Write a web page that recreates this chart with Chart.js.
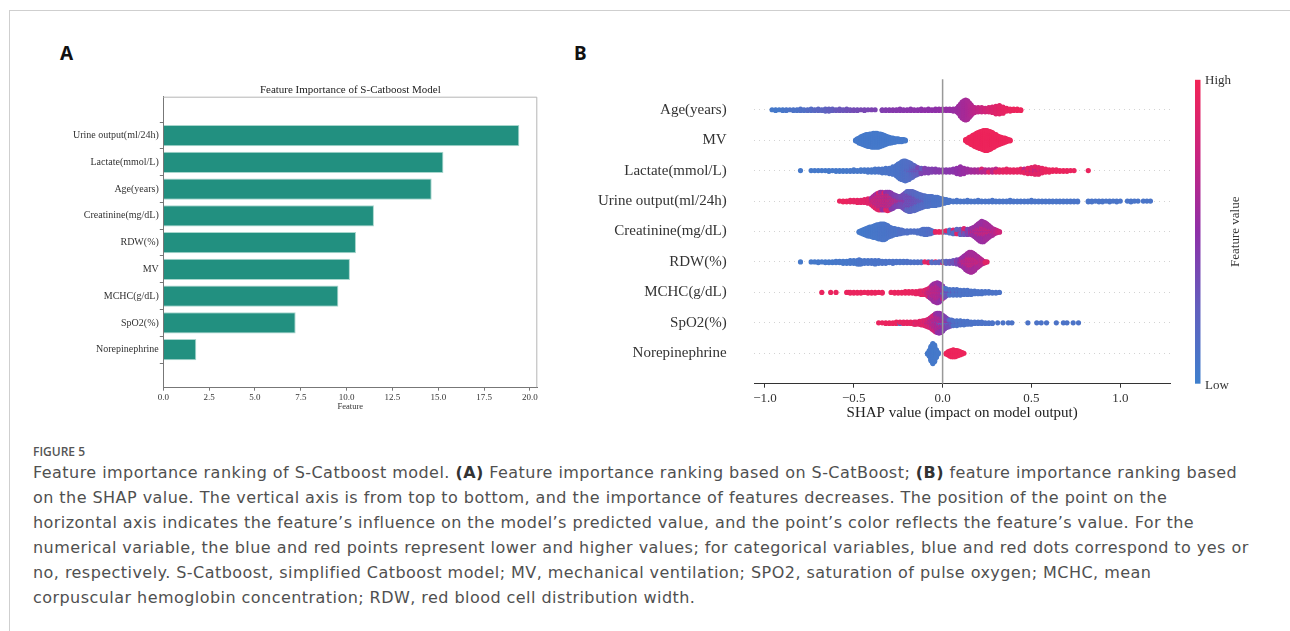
<!DOCTYPE html>
<html>
<head>
<meta charset="utf-8">
<script src="https://cdn.jsdelivr.net/npm/chart.js@4.4.1/dist/chart.umd.min.js"></script>
<style>
  body { margin: 0; background: #fff; width: 1290px; height: 631px; overflow: hidden; position: relative; }
  #frame { position: absolute; left: 9px; top: 10px; width: 1400px; height: 700px; border: 1px solid #cfcfcf; }
  .panel { position: absolute; font: bold 19px "Noto Sans", sans-serif; line-height: 19px; color: #111; }
  #chartA { position: absolute; left: 0; top: 0; }
  #chartB { position: absolute; left: 560px; top: 0; }
  #figlabel { position: absolute; left: 33px; top: 444px; font: 600 12px "Open Sans", sans-serif; line-height: 16px; color: #555; }
  #caption { position: absolute; left: 33px; top: 460px; font: 16px "DejaVu Sans", sans-serif; letter-spacing: 0.45px; line-height: 25px; color: #505050; white-space: nowrap; }
  #caption b { font-weight: 700; color: #333; }
</style>
</head>
<body>
<div id="frame"></div>
<div class="panel" style="left:60px;top:44px">A</div>
<div class="panel" style="left:574px;top:44px">B</div>
<canvas id="chartA" width="570" height="412"></canvas>
<canvas id="chartB" width="730" height="422"></canvas>
<div id="figlabel">FIGURE 5</div>
<div id="caption">
<span>Feature importance ranking of S-Catboost model. <b>(A)</b> Feature importance ranking based on S-CatBoost; <b>(B)</b> feature importance ranking based</span><br>
<span>on the SHAP value. The vertical axis is from top to bottom, and the importance of features decreases. The position of the point on the</span><br>
<span>horizontal axis indicates the feature’s influence on the model’s predicted value, and the point’s color reflects the feature’s value. For the</span><br>
<span>numerical variable, the blue and red points represent lower and higher values; for categorical variables, blue and red dots correspond to yes or</span><br>
<span>no, respectively. S-Catboost, simplified Catboost model; MV, mechanical ventilation; SPO2, saturation of pulse oxygen; MCHC, mean</span><br>
<span>corpuscular hemoglobin concentration; RDW, red blood cell distribution width.</span>
</div>
<script>
// ---- panel A: feature importance ----
const categoriesA = ["Urine output(ml/24h)", "Lactate(mmol/L)", "Age(years)", "Creatinine(mg/dL)", "RDW(%)", "MV", "MCHC(g/dL)", "SpO2(%)", "Norepinephrine"];
const importanceA = [19.42, 15.28, 14.64, 11.49, 10.51, 10.18, 9.55, 7.22, 1.8];
const xTicksA = [0, 2.5, 5, 7.5, 10, 12.5, 15, 17.5, 20];

// ---- panel B: SHAP beeswarm, bins of [shap value, dot count, feature value 0..1] ----
const featuresB = ["Age(years)", "MV", "Lactate(mmol/L)", "Urine output(ml/24h)", "Creatinine(mg/dL)", "RDW(%)", "MCHC(g/dL)", "SpO2(%)", "Norepinephrine"];
const xTicksB = [-1, -0.5, 0, 0.5, 1];

const ageBins = [
  [-0.96,1,.05],[-0.94,2,.05],[-0.92,1,.05],[-0.90,2,.07],[-0.88,2,.08],[-0.86,1,.1],[-0.84,2,.1],[-0.82,2,.1],
  [-0.80,3,.12],[-0.78,2,.12],[-0.76,2,.15],[-0.74,3,.15],[-0.72,2,.18],[-0.70,3,.2],[-0.68,2,.2],[-0.66,4,.22],
  [-0.64,4,.25],[-0.62,3,.25],[-0.60,2,.28],[-0.58,3,.3],[-0.56,2,.3],[-0.54,3,.32],[-0.52,2,.33],[-0.50,2,.35],
  [-0.48,2,.35],[-0.46,1,.37],[-0.44,2,.38],[-0.42,1,.38],[-0.40,1,.4],[-0.38,1,.4],
  [-0.34,2,.42],[-0.32,2,.43],[-0.30,2,.44],[-0.28,2,.45],[-0.26,2,.45],[-0.24,3,.46],[-0.22,2,.46],[-0.20,2,.47],
  [-0.18,3,.47],[-0.16,2,.48],[-0.14,2,.48],[-0.12,3,.49],[-0.10,2,.5],[-0.08,3,.5],[-0.06,2,.5],[-0.04,3,.5],
  [-0.02,3,.51],[0.00,3,.52],[0.02,3,.52],[0.04,3,.53],[0.06,4,.54],[0.08,6,.55],[0.09,11,.56],[0.10,18,.57],
  [0.11,24,.58],[0.12,28,.6],[0.13,30,.6],[0.14,28,.62],[0.15,22,.63],[0.16,16,.65],[0.17,10,.68],[0.18,8,.7],
  [0.20,7,.73],[0.22,7,.76],[0.24,6,.8],[0.26,7,.83],[0.28,9,.86],[0.30,12,.88],[0.32,13,.9],[0.34,10,.92],
  [0.36,5,.94],[0.38,4,.95],[0.40,3,.96],[0.42,3,.97],[0.44,2,.97]
];
const mvBins = [
  [-0.49,2,.05],[-0.48,5,.05],[-0.47,8,.05],[-0.46,11,.05],[-0.45,13,.05],[-0.44,15,.05],[-0.43,17,.05],[-0.42,18,.05],
  [-0.41,19,.05],[-0.40,20,.05],[-0.39,21,.05],[-0.38,21,.05],[-0.37,21,.05],[-0.36,20,.05],[-0.35,19,.05],[-0.34,17,.05],
  [-0.33,15,.05],[-0.32,13,.05],[-0.31,11,.05],[-0.30,9,.05],[-0.29,8,.05],[-0.28,7,.05],[-0.27,6,.05],[-0.26,5,.05],
  [-0.25,5,.05],[-0.24,4,.05],[-0.23,4,.05],[-0.22,3,.05],[-0.21,2,.05],
  [0.13,3,.97],[0.14,6,.97],[0.15,9,.97],[0.16,12,.97],[0.17,15,.97],[0.18,18,.97],[0.19,21,.97],[0.20,23,.97],
  [0.21,25,.97],[0.22,27,.97],[0.23,29,.97],[0.24,30,.97],[0.25,30,.97],[0.26,28,.97],[0.27,26,.97],[0.28,23,.97],
  [0.29,20,.97],[0.30,17,.97],[0.31,14,.97],[0.32,12,.97],[0.33,10,.97],[0.34,8,.97],[0.35,7,.97],[0.36,5,.97],
  [0.37,3,.97],[0.38,2,.97]
];
const lactateBins = [
  [-0.80,1,.05],[-0.74,1,.05],[-0.72,1,.05],[-0.70,1,.05],[-0.68,1,.05],[-0.66,1,.05],[-0.64,2,.05],[-0.62,1,.05],
  [-0.60,2,.05],[-0.58,2,.05],[-0.56,2,.05],[-0.54,2,.05],[-0.52,2,.06],[-0.50,3,.06],[-0.48,2,.06],[-0.46,3,.06],
  [-0.44,3,.06],[-0.42,4,.07],[-0.40,4,.07],[-0.38,5,.07],[-0.36,5,.08],[-0.34,6,.08],[-0.32,7,.08],[-0.30,8,.09],
  [-0.28,11,.09],[-0.26,15,.1],[-0.25,19,.1],[-0.24,22,.1],[-0.23,25,.11],[-0.22,27,.12],[-0.21,28,.12],
  [-0.20,24,.13],[-0.20,2,.3],[-0.19,21,.14],[-0.19,3,.3],[-0.18,18,.15],[-0.18,3,.32],[-0.17,14,.17],[-0.17,4,.35],
  [-0.16,11,.2],[-0.16,4,.35],[-0.15,8,.22],[-0.15,4,.38],[-0.14,6,.25],[-0.14,4,.38],[-0.12,4,.28],[-0.12,4,.4],
  [-0.10,3,.3],[-0.10,4,.42],[-0.08,2,.3],[-0.08,4,.42],[-0.06,5,.42],[-0.04,5,.44],[-0.02,4,.45],[0.00,4,.45],
  [0.02,4,.46],[0.04,4,.47],[0.06,5,.48],[0.08,8,.5],[0.10,11,.52],[0.12,8,.54],[0.14,5,.56],[0.16,4,.58],
  [0.18,4,.6],[0.20,4,.62],[0.22,3,.65],[0.22,2,.85],[0.24,4,.68],[0.26,2,.65],[0.26,2,.9],[0.28,3,.7],[0.28,1,.9],
  [0.30,3,.9],[0.30,2,.7],[0.32,4,.9],[0.34,3,.92],[0.34,1,.7],[0.36,4,.92],[0.36,1,.75],[0.38,4,.92],[0.40,3,.93],
  [0.40,1,.75],[0.42,4,.93],[0.44,4,.93],[0.44,1,.7],[0.46,4,.93],[0.46,2,.7],[0.48,5,.92],[0.48,3,.7],[0.50,6,.9],
  [0.50,3,.65],[0.52,7,.9],[0.52,4,.65],[0.54,7,.9],[0.54,3,.7],[0.56,5,.93],[0.56,2,.7],[0.58,5,.95],[0.60,4,.95],
  [0.62,3,.95],[0.64,3,.95],[0.66,2,.95],[0.68,2,.95],[0.70,2,.95],[0.72,1,.95],[0.74,1,.95],[0.82,1,.95]
];
const urineBins = [
  [-0.58,1,.95],[-0.56,2,.95],[-0.54,2,.95],[-0.52,3,.93],[-0.50,3,.92],[-0.48,4,.92],[-0.46,4,.9],[-0.44,5,.9],
  [-0.42,7,.88],[-0.40,6,.9],[-0.40,4,.6],[-0.39,8,.9],[-0.39,6,.6],[-0.38,10,.9],[-0.38,8,.58],[-0.37,12,.9],
  [-0.37,10,.58],[-0.36,13,.9],[-0.36,11,.55],[-0.35,13,.92],[-0.35,12,.55],[-0.34,12,.9],[-0.34,13,.55],
  [-0.33,12,.9],[-0.33,12,.52],[-0.32,13,.92],[-0.32,12,.5],[-0.31,14,.92],[-0.31,12,.5],[-0.30,13,.9],
  [-0.30,12,.48],[-0.29,11,.88],[-0.29,12,.45],[-0.28,9,.85],[-0.28,11,.45],[-0.27,7,.85],[-0.27,10,.42],
  [-0.26,6,.8],[-0.26,9,.4],[-0.25,5,.75],[-0.25,9,.4],[-0.24,4,.7],[-0.24,10,.38],[-0.23,4,.65],[-0.23,12,.35],
  [-0.22,4,.6],[-0.22,16,.35],[-0.21,5,.55],[-0.21,19,.32],[-0.20,12,.45],[-0.20,15,.2],[-0.19,12,.45],[-0.19,16,.2],
  [-0.18,11,.45],[-0.18,17,.2],[-0.17,10,.42],[-0.17,17,.2],[-0.16,9,.4],[-0.16,17,.18],[-0.15,8,.4],[-0.15,16,.18],
  [-0.14,7,.38],[-0.14,15,.16],[-0.13,6,.35],[-0.13,14,.15],[-0.12,5,.35],[-0.12,13,.15],[-0.11,4,.32],[-0.11,12,.15],
  [-0.10,3,.3],[-0.10,12,.15],[-0.09,14,.12],[-0.08,14,.12],[-0.07,13,.12],[-0.06,13,.12],[-0.05,12,.1],
  [-0.04,12,.1],[-0.03,11,.1],[-0.02,10,.1],[-0.01,8,.1],[0.00,7,.1],[0.01,6,.08],[0.02,5,.08],[0.03,4,.08],
  [0.04,3,.08],[0.06,2,.08],[0.08,3,.08],[0.10,2,.08],[0.12,2,.08],[0.14,3,.08],[0.16,2,.08],[0.18,2,.08],
  [0.20,3,.08],[0.22,2,.08],[0.24,2,.08],[0.26,2,.08],[0.28,3,.08],[0.30,2,.08],[0.32,2,.08],[0.34,2,.08],
  [0.36,2,.08],[0.38,3,.08],[0.40,2,.08],[0.42,2,.08],[0.44,2,.08],[0.46,2,.08],[0.48,2,.08],[0.50,3,.08],
  [0.52,2,.08],[0.54,2,.08],[0.56,2,.08],[0.58,2,.08],[0.60,2,.08],[0.62,2,.08],[0.64,2,.08],[0.66,2,.08],
  [0.68,2,.08],[0.70,2,.08],[0.72,2,.08],[0.74,2,.08],[0.76,2,.08],[0.82,2,.08],[0.84,2,.08],[0.86,1,.08],
  [0.88,2,.08],[0.90,2,.08],[0.92,1,.08],[0.94,2,.08],[0.96,1,.08],[0.98,2,.08],[1.00,1,.08],[1.04,1,.08],
  [1.06,2,.08],[1.08,1,.08],[1.10,1,.08],[1.13,1,.08],[1.15,1,.08],[1.17,1,.08]
];
const creatinineBins = [
  [-0.47,2,.05],[-0.46,4,.05],[-0.45,6,.05],[-0.44,8,.05],[-0.43,10,.05],[-0.42,12,.06],[-0.41,13,.06],[-0.40,14,.06],
  [-0.39,16,.06],[-0.38,17,.07],[-0.37,19,.07],[-0.36,20,.07],[-0.35,21,.08],[-0.34,22,.08],[-0.33,22,.08],
  [-0.32,20,.08],[-0.31,17,.09],[-0.30,14,.09],[-0.29,12,.1],[-0.28,10,.1],[-0.27,9,.1],[-0.26,8,.1],[-0.25,7,.1],
  [-0.24,6,.12],[-0.23,5,.12],[-0.22,4,.12],[-0.20,4,.12],[-0.18,3,.12],[-0.16,3,.12],[-0.14,4,.12],[-0.12,6,.12],
  [-0.11,7,.12],[-0.10,8,.12],[-0.09,8,.12],[-0.08,7,.14],[-0.07,6,.14],[-0.06,4,.15],[-0.05,2,.15],[-0.04,2,.92],
  [-0.02,2,.95],[0.00,2,.93],[0.02,2,.9],[0.02,1,.12],[0.04,4,.12],[0.04,1,.9],[0.06,4,.15],[0.06,2,.85],
  [0.08,4,.2],[0.08,3,.9],[0.10,5,.25],[0.10,3,.8],[0.12,5,.3],[0.12,4,.85],[0.14,5,.4],[0.14,3,.8],[0.16,6,.5],
  [0.16,3,.85],[0.17,8,.55],[0.17,3,.85],[0.18,10,.55],[0.18,4,.8],[0.19,13,.55],[0.19,5,.8],[0.20,16,.55],
  [0.20,6,.85],[0.21,19,.55],[0.21,7,.85],[0.22,21,.55],[0.22,8,.88],[0.23,20,.55],[0.23,8,.85],[0.24,18,.58],
  [0.24,7,.85],[0.25,15,.6],[0.25,6,.85],[0.26,12,.6],[0.26,5,.88],[0.27,9,.6],[0.27,4,.9],[0.28,7,.62],[0.28,3,.9],
  [0.29,5,.65],[0.29,2,.9],[0.30,4,.7],[0.30,1,.9],[0.31,3,.75],[0.32,2,.8]
];
const rdwBins = [
  [-0.80,1,.05],[-0.74,1,.05],[-0.72,1,.05],[-0.70,2,.05],[-0.68,1,.05],[-0.66,2,.05],[-0.64,2,.05],[-0.62,2,.05],
  [-0.60,3,.06],[-0.58,3,.06],[-0.56,4,.06],[-0.54,4,.06],[-0.52,5,.07],[-0.50,5,.07],[-0.48,6,.07],[-0.47,7,.08],
  [-0.46,6,.08],[-0.44,5,.08],[-0.42,5,.08],[-0.40,5,.09],[-0.38,6,.09],[-0.36,5,.09],[-0.34,4,.1],[-0.32,4,.1],
  [-0.30,3,.1],[-0.28,4,.1],[-0.26,3,.1],[-0.24,3,.1],[-0.22,3,.1],[-0.20,3,.11],[-0.18,2,.11],[-0.16,2,.11],
  [-0.14,2,.12],[-0.12,2,.12],[-0.10,1,.93],[-0.08,1,.2],[-0.08,1,.9],[-0.06,2,.15],[-0.04,1,.92],[-0.04,1,.15],
  [-0.02,2,.2],[0.00,2,.25],[0.00,1,.9],[0.02,3,.2],[0.02,1,.6],[0.04,3,.25],[0.04,1,.85],[0.06,4,.3],[0.06,1,.7],
  [0.08,5,.4],[0.08,2,.8],[0.10,7,.5],[0.10,3,.85],[0.11,9,.55],[0.11,4,.8],[0.12,12,.55],[0.12,5,.85],
  [0.13,15,.55],[0.13,7,.8],[0.14,18,.58],[0.14,8,.85],[0.15,20,.58],[0.15,9,.85],[0.16,21,.6],[0.16,9,.85],
  [0.17,19,.6],[0.17,9,.85],[0.18,16,.6],[0.18,8,.85],[0.19,13,.62],[0.19,6,.85],[0.20,10,.62],[0.20,5,.88],
  [0.21,8,.65],[0.21,3,.9],[0.22,5,.68],[0.22,2,.9],[0.23,3,.7],[0.23,1,.9],[0.24,1,.8],[0.24,1,.9],[0.25,1,.9]
];
const mchcBins = [
  [-0.68,1,.95],[-0.63,1,.95],[-0.60,1,.95],[-0.54,1,.95],[-0.53,1,.95],[-0.52,2,.95],[-0.50,2,.95],[-0.48,2,.95],
  [-0.46,2,.95],[-0.44,1,.95],[-0.42,2,.95],[-0.40,2,.95],[-0.38,2,.95],[-0.36,1,.95],[-0.34,2,.95],[-0.29,1,.95],
  [-0.27,2,.95],[-0.25,2,.95],[-0.23,2,.95],[-0.21,3,.95],[-0.19,3,.95],[-0.17,3,.93],[-0.15,4,.93],[-0.13,5,.92],
  [-0.12,6,.9],[-0.11,6,.9],[-0.10,5,.9],[-0.10,2,.6],[-0.09,6,.88],[-0.09,3,.6],[-0.08,7,.85],[-0.08,5,.6],
  [-0.07,8,.85],[-0.07,8,.58],[-0.06,10,.82],[-0.06,11,.58],[-0.05,12,.8],[-0.05,14,.55],[-0.04,13,.8],
  [-0.04,15,.55],[-0.03,14,.78],[-0.03,16,.55],[-0.02,13,.78],[-0.02,15,.52],[-0.01,11,.75],[-0.01,13,.5],
  [0.00,8,.7],[0.00,8,.45],[0.00,3,.15],[0.01,4,.6],[0.01,6,.35],[0.01,4,.12],[0.02,3,.5],[0.02,4,.3],[0.02,4,.1],
  [0.04,2,.5],[0.04,3,.3],[0.04,4,.1],[0.06,2,.45],[0.06,2,.25],[0.06,5,.1],[0.08,2,.4],[0.08,2,.2],[0.08,5,.1],
  [0.10,1,.4],[0.10,2,.2],[0.10,5,.1],[0.12,1,.35],[0.12,1,.2],[0.12,5,.1],[0.14,1,.3],[0.14,6,.1],[0.16,1,.3],
  [0.16,5,.1],[0.18,5,.1],[0.20,4,.1],[0.22,4,.1],[0.24,3,.1],[0.26,3,.1],[0.28,2,.1],[0.30,2,.1],[0.32,1,.1]
];
const spo2Bins = [
  [-0.36,1,.95],[-0.34,1,.95],[-0.32,2,.95],[-0.30,2,.95],[-0.28,2,.95],[-0.26,3,.95],[-0.24,2,.95],[-0.24,1,.12],
  [-0.22,3,.93],[-0.20,3,.93],[-0.18,3,.93],[-0.16,4,.92],[-0.15,3,.9],[-0.15,1,.15],[-0.13,5,.9],[-0.12,6,.9],
  [-0.11,6,.88],[-0.11,1,.6],[-0.10,6,.88],[-0.10,2,.6],[-0.09,7,.85],[-0.09,3,.6],[-0.08,8,.85],[-0.08,4,.6],
  [-0.07,9,.82],[-0.07,6,.58],[-0.06,11,.8],[-0.06,8,.55],[-0.05,12,.8],[-0.05,10,.55],[-0.05,1,.15],
  [-0.04,13,.78],[-0.04,13,.55],[-0.04,1,.15],[-0.03,13,.75],[-0.03,15,.52],[-0.03,1,.2],[-0.02,12,.75],
  [-0.02,16,.5],[-0.02,2,.2],[-0.01,10,.72],[-0.01,15,.5],[-0.01,3,.2],[0.00,8,.7],[0.00,13,.45],[0.00,3,.15],
  [0.01,6,.68],[0.01,10,.42],[0.01,3,.15],[0.02,4,.65],[0.02,8,.4],[0.02,3,.15],[0.03,3,.6],[0.03,6,.35],
  [0.03,3,.15],[0.04,2,.55],[0.04,5,.35],[0.04,3,.12],[0.05,2,.5],[0.05,4,.3],[0.05,3,.12],[0.06,1,.5],[0.06,3,.3],
  [0.06,4,.12],[0.08,1,.45],[0.08,3,.25],[0.08,4,.1],[0.10,3,.25],[0.10,4,.1],[0.12,2,.2],[0.12,4,.1],[0.14,1,.2],
  [0.14,4,.1],[0.16,4,.1],[0.18,3,.1],[0.20,3,.1],[0.22,3,.1],[0.24,2,.1],[0.26,2,.1],[0.28,2,.1],[0.31,1,.1],
  [0.34,1,.1],[0.37,1,.1],[0.39,1,.1],[0.48,1,.1],[0.53,1,.1],[0.555,1,.1],[0.585,1,.1],[0.64,1,.1],[0.68,1,.1],
  [0.70,1,.1],[0.735,1,.1],[0.765,1,.1]
];
const norepiBins = [
  [-0.085,2,.05],[-0.075,9,.05],[-0.065,22,.05],[-0.055,30,.05],[-0.045,25,.05],[-0.035,12,.05],[-0.025,3,.05],
  [0.02,2,.97],[0.03,5,.97],[0.04,8,.97],[0.05,10,.97],[0.06,11,.97],[0.07,10,.97],[0.08,9,.97],[0.09,7,.97],
  [0.10,5,.97],[0.11,3,.97],[0.12,1,.97]
];
const rowBins = [ageBins, mvBins, lactateBins, urineBins, creatinineBins, rdwBins, mchcBins, spo2Bins, norepiBins];

// red_blue style colormap (low = blue, high = red)
const cmapStops = [[0, [62, 128, 205]], [0.25, [98, 95, 190]], [0.5, [142, 48, 168]], [0.75, [200, 36, 128]], [1, [242, 36, 86]]];
function cmap(t) {
  for (let i = 1; i < cmapStops.length; i++) {
    const [t1, c1] = cmapStops[i];
    const [t0, c0] = cmapStops[i - 1];
    if (t <= t1) {
      const f = (t - t0) / (t1 - t0);
      return `rgb(${c0.map((c, k) => Math.round(c + (c1[k] - c) * f)).join(",")})`;
    }
  }
  return "rgb(242,36,86)";
}

// stack the dots of each bin up and down like shap's beeswarm does
function swarmRow(bins, row) {
  const groups = new Map();
  bins.forEach(([x, n, c]) => {
    if (!groups.has(x)) groups.set(x, []);
    groups.get(x).push([n, c]);
  });
  const pts = [];
  let maxLayer = 0;
  groups.forEach((entries, x) => {
    const left = entries.map((e) => e[0]);
    const queue = [];
    let more = true;
    while (more) {
      more = false;
      entries.forEach((e, i) => {
        if (left[i] > 0) { queue.push(e[1]); left[i]--; more = true; }
      });
    }
    queue.forEach((c, k) => {
      // swap every other pair so colours don't split above/below
      let layer = k;
      const pair = Math.ceil(k / 2);
      if (k > 0 && pair % 2 === 0) layer = k % 2 === 1 ? k + 1 : k - 1;
      if (layer >= queue.length) layer = k;
      const ys = Math.ceil(layer / 2) * ((layer % 2) * 2 - 1);
      pts.push({ x: x, ys: ys, c: c });
      maxLayer = Math.max(maxLayer, Math.abs(ys));
    });
  });
  const s = (0.9 * 0.4) / (maxLayer + 1);
  return pts.map((p) => ({ x: p.x, y: row + p.ys * s, c: p.c }));
}

const serif = "Liberation Serif";

const frameA = {
  id: "frameA",
  afterDraw(chart) {
    const { ctx, chartArea: a } = chart;
    ctx.save();
    ctx.strokeStyle = "#b5b5b5";
    ctx.lineWidth = 1;
    ctx.beginPath();
    ctx.moveTo(a.left, a.top + 0.5);
    ctx.lineTo(a.right - 0.5, a.top + 0.5);
    ctx.lineTo(a.right - 0.5, a.bottom);
    ctx.stroke();
    ctx.fillStyle = "#222";
    ctx.font = `11px "${serif}"`;
    ctx.textAlign = "center";
    ctx.textBaseline = "alphabetic";
    ctx.fillText("Feature Importance of S-Catboost Model", (a.left + a.right) / 2, a.top - 3.5);
    ctx.restore();
  },
};

new Chart(document.getElementById("chartA"), {
  type: "bar",
  data: {
    datasets: [{
      data: importanceA.map((v, i) => ({ x: v, y: i })),
      backgroundColor: "#229080",
      borderColor: "#a8d6cd",
      borderWidth: 1,
      barPercentage: 0.8,
      categoryPercentage: 1,
    }],
  },
  options: {
    indexAxis: "y",
    responsive: false,
    animation: false,
    layout: { padding: { top: 96.7, right: 32.7, left: 0, bottom: 0 } },
    plugins: { legend: { display: false }, tooltip: { enabled: false } },
    scales: {
      x: {
        type: "linear", min: 0, max: 20.4,
        afterBuildTicks: (s) => { s.ticks = xTicksA.map((v) => ({ value: v })); },
        afterFit: (s) => { s.height = 24.8; },
        ticks: { callback: (v) => v.toFixed(1), font: { family: serif, size: 9 }, color: "#333", padding: 1.5, maxRotation: 0, autoSkip: false },
        grid: { drawOnChartArea: false, tickLength: 3.5, color: "#777" },
        border: { color: "#777" },
        title: { display: true, text: "Feature", font: { family: serif, size: 8.5 }, color: "#333", padding: 0 },
      },
      y: {
        type: "linear", reverse: true, min: -0.85, max: 8.8,
        afterBuildTicks: (s) => { s.ticks = categoriesA.map((_, i) => ({ value: i })); },
        afterFit: (s) => { s.width = 163.3; },
        ticks: { callback: (v) => categoriesA[v], font: { family: serif, size: 10 }, color: "#333", padding: 1, autoSkip: false },
        grid: { drawOnChartArea: false, tickLength: 3.5, color: "#777" },
        border: { color: "#777" },
      },
    },
  },
  plugins: [frameA],
});

const shapDecor = {
  id: "shapDecor",
  afterDatasetsDraw(chart) {
    const { ctx, chartArea: a, scales: { x } } = chart;
    ctx.save();
    const x0 = x.getPixelForValue(0);
    ctx.strokeStyle = "#999";
    ctx.lineWidth = 1.5;
    ctx.beginPath();
    ctx.moveTo(x0, a.top);
    ctx.lineTo(x0, a.bottom);
    ctx.stroke();

    // colour bar
    const cbL = a.right + 25, cbT = a.top + 0.5, cbB = a.bottom, cbW = 5.5;
    const g = ctx.createLinearGradient(0, cbB, 0, cbT);
    cmapStops.forEach(([t, c]) => g.addColorStop(t, `rgb(${c.join(",")})`));
    ctx.fillStyle = g;
    ctx.fillRect(cbL, cbT, cbW, cbB - cbT);
    ctx.fillStyle = "#333";
    ctx.font = `13px "${serif}"`;
    ctx.textAlign = "left";
    ctx.textBaseline = "middle";
    ctx.fillText("High", cbL + 10, cbT + 0.5);
    ctx.fillText("Low", cbL + 10, cbB + 1.5);
    ctx.translate(cbL + 41, (cbT + cbB) / 2);
    ctx.rotate(-Math.PI / 2);
    ctx.textAlign = "center";
    ctx.fillText("Feature value", 0, 0);
    ctx.restore();
  },
};

const datasetsB = rowBins.map((bins, row) => {
  const pts = swarmRow(bins, row);
  return {
    data: pts.map((p) => ({ x: p.x, y: p.y })),
    pointBackgroundColor: pts.map((p) => cmap(p.c)),
    pointRadius: 2.6,
    pointBorderWidth: 0,
    pointHoverRadius: 2.6,
  };
});

new Chart(document.getElementById("chartB"), {
  type: "scatter",
  data: { datasets: datasetsB },
  options: {
    responsive: false,
    animation: false,
    events: [],
    layout: { padding: { top: 79.3, right: 120, left: 0, bottom: 0 } },
    plugins: { legend: { display: false }, tooltip: { enabled: false } },
    scales: {
      x: {
        type: "linear", min: -1.06, max: 1.28,
        afterBuildTicks: (s) => { s.ticks = xTicksB.map((v) => ({ value: v })); },
        afterFit: (s) => { s.height = 38.3; },
        ticks: { callback: (v) => (v < 0 ? "\u2212" : "") + Math.abs(v).toFixed(1), font: { family: serif, size: 13 }, color: "#333", padding: 3, maxRotation: 0, autoSkip: false },
        grid: { drawOnChartArea: false, tickLength: 4, color: "#333" },
        border: { color: "#333" },
        title: { display: true, text: "SHAP value (impact on model output)", font: { family: serif, size: 15 }, color: "#222", padding: 0 },
      },
      y: {
        type: "linear", reverse: true, min: -1, max: 9,
        afterBuildTicks: (s) => { s.ticks = featuresB.map((_, i) => ({ value: i })); },
        afterFit: (s) => { s.width = 194.3; },
        ticks: { callback: (v) => featuresB[v], font: { family: serif, size: 15 }, color: "#333", padding: 27.6, autoSkip: false },
        grid: { drawTicks: false, color: "#c8c8c8", lineWidth: 0.8 },
        border: { display: false, dash: [1, 4] },
      },
    },
  },
  plugins: [shapDecor],
});
</script>
</body>
</html>
